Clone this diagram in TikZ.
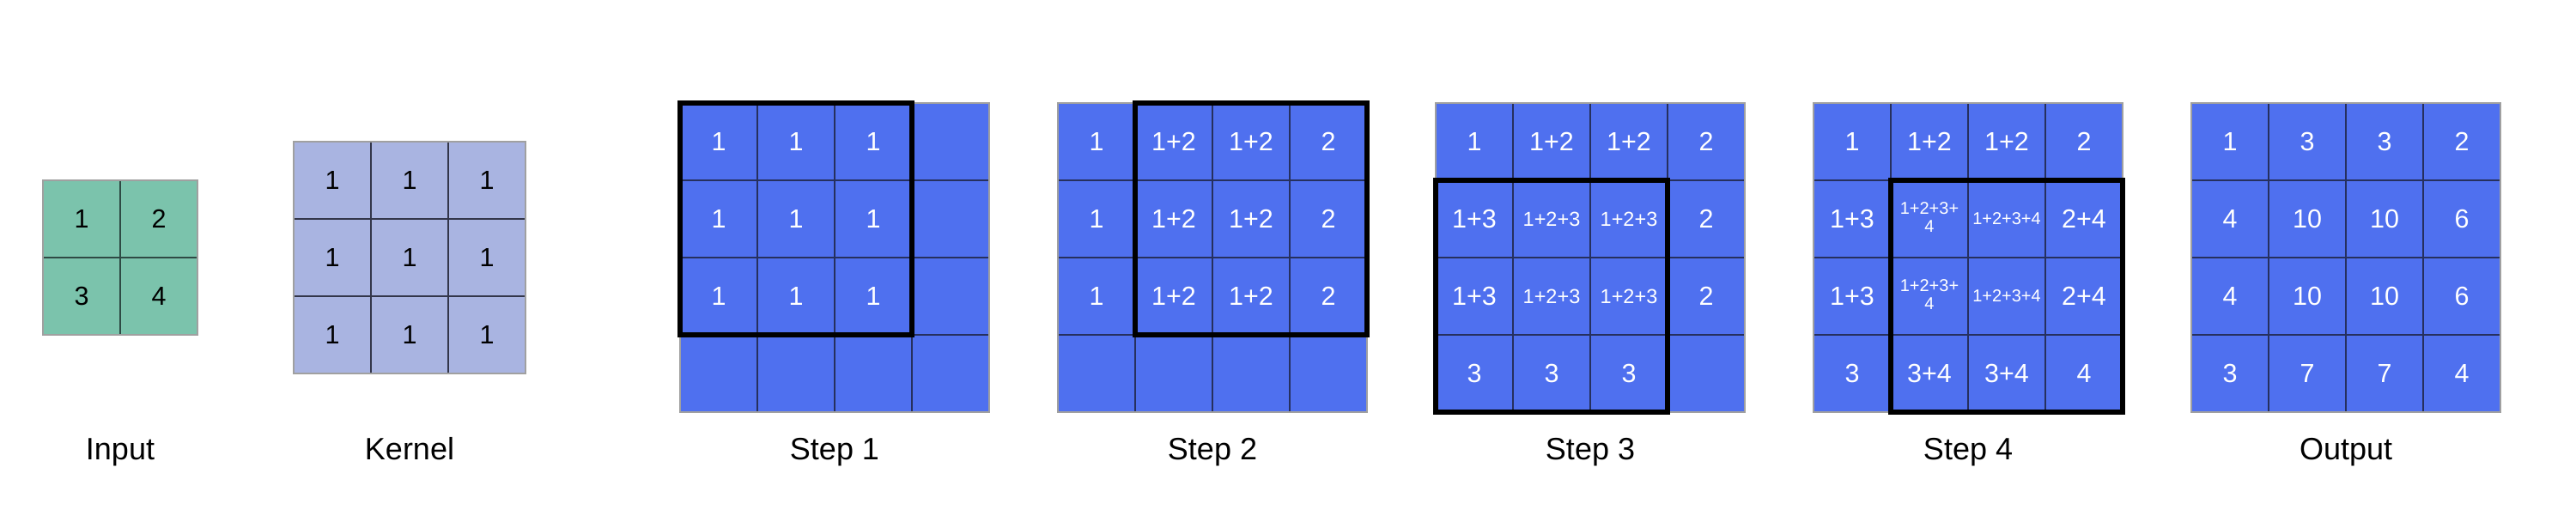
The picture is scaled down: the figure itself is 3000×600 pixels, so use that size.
\documentclass[tikz,border=0pt]{standalone}
\usepackage{fontspec}
\setmainfont{Liberation Sans}
\definecolor{gfill}{HTML}{7BC3AC}
\definecolor{kfill}{HTML}{A9B4E1}
\definecolor{bfill}{HTML}{4F70EF}
\definecolor{gline}{HTML}{2E4A44}
\definecolor{kline}{HTML}{33364A}
\definecolor{bline}{HTML}{26305E}
\definecolor{edgegray}{HTML}{A0A0A0}
\tikzset{
  cellbase/.style={minimum width=90pt, minimum height=90pt, inner sep=0pt, outer sep=0pt,
    anchor=north west, line width=1.5pt, font=\fontsize{30.5}{36}\selectfont},
  gcell/.style={cellbase, fill=gfill, draw=gline, text=black},
  kcell/.style={cellbase, fill=kfill, draw=kline, text=black},
  bcell/.style={cellbase, fill=bfill, draw=bline, text=white},
  smallA/.style={font=\fontsize{23.5}{26}\selectfont},
  smallB/.style={font=\fontsize{20}{23}\selectfont, align=center},
  winbox/.style={draw=black, line width=6pt},
  outerframe/.style={draw=edgegray, line width=1.5pt},
  caption/.style={anchor=base, font=\fontsize{36}{40}\selectfont, text=black}
}
% one row of a blue 4x4 grid: prefix, row, x0, y0, four cell texts
\newcommand\mkbrow[8]{%
  \node[bcell] (#1-#2-0) at (#3,{#4+90*#2}) {#5};
  \node[bcell] (#1-#2-1) at ({#3+90},{#4+90*#2}) {#6};
  \node[bcell] (#1-#2-2) at ({#3+180},{#4+90*#2}) {#7};
  \node[bcell] (#1-#2-3) at ({#3+270},{#4+90*#2}) {#8};
}
\begin{document}
\begin{tikzpicture}[x=1pt,y=-1pt]
\useasboundingbox[fill=white] (0,0) rectangle (3000,600);

% Input 2x2
\node[gcell] (in-0-0) at (50,210) {1};
\node[gcell] (in-0-1) at (140,210) {2};
\node[gcell] (in-1-0) at (50,300) {3};
\node[gcell] (in-1-1) at (140,300) {4};
\draw[outerframe] (in-0-0.north west) rectangle (in-1-1.south east);
\node[caption] (labin) at (140,535) {Input};

% Kernel 3x3
\foreach \r in {0,1,2}{
  \foreach \c in {0,1,2}{
    \node[kcell] (k-\r-\c) at ({342+90*\c},{165+90*\r}) {1};
  }
}
\draw[outerframe] (k-0-0.north west) rectangle (k-2-2.south east);
\node[caption] (labk) at (477,535) {Kernel};

% Step 1
\mkbrow{sa}{0}{792}{120}{1}{1}{1}{}
\mkbrow{sa}{1}{792}{120}{1}{1}{1}{}
\mkbrow{sa}{2}{792}{120}{1}{1}{1}{}
\mkbrow{sa}{3}{792}{120}{}{}{}{}
\draw[outerframe] (sa-0-0.north west) rectangle (sa-3-3.south east);
\draw[winbox] (sa-0-0.north west) rectangle (sa-2-2.south east);
\node[caption] (lab1) at (972,535) {Step 1};

% Step 2
\mkbrow{sb}{0}{1232}{120}{1}{1+2}{1+2}{2}
\mkbrow{sb}{1}{1232}{120}{1}{1+2}{1+2}{2}
\mkbrow{sb}{2}{1232}{120}{1}{1+2}{1+2}{2}
\mkbrow{sb}{3}{1232}{120}{}{}{}{}
\draw[outerframe] (sb-0-0.north west) rectangle (sb-3-3.south east);
\draw[winbox] (sb-0-1.north west) rectangle (sb-2-3.south east);
\node[caption] (lab2) at (1412,535) {Step 2};

% Step 3
\mkbrow{sc}{0}{1672}{120}{1}{1+2}{1+2}{2}
\mkbrow{sc}{1}{1672}{120}{1+3}{\tikzset{smallA}\fontsize{23.5}{26}\selectfont 1+2+3}{\fontsize{23.5}{26}\selectfont 1+2+3}{2}
\mkbrow{sc}{2}{1672}{120}{1+3}{\fontsize{23.5}{26}\selectfont 1+2+3}{\fontsize{23.5}{26}\selectfont 1+2+3}{2}
\mkbrow{sc}{3}{1672}{120}{3}{3}{3}{}
\draw[outerframe] (sc-0-0.north west) rectangle (sc-3-3.south east);
\draw[winbox] (sc-1-0.north west) rectangle (sc-3-2.south east);
\node[caption] (lab3) at (1852,535) {Step 3};

% Step 4
\mkbrow{sd}{0}{2112}{120}{1}{1+2}{1+2}{2}
\mkbrow{sd}{1}{2112}{120}{1+3}{\fontsize{20}{23}\selectfont\begin{tabular}{@{}c@{}}1+2+3+\\[-2pt]4\end{tabular}}{\fontsize{20}{23}\selectfont 1+2+3+4}{2+4}
\mkbrow{sd}{2}{2112}{120}{1+3}{\fontsize{20}{23}\selectfont\begin{tabular}{@{}c@{}}1+2+3+\\[-2pt]4\end{tabular}}{\fontsize{20}{23}\selectfont 1+2+3+4}{2+4}
\mkbrow{sd}{3}{2112}{120}{3}{3+4}{3+4}{4}
\draw[outerframe] (sd-0-0.north west) rectangle (sd-3-3.south east);
\draw[winbox] (sd-1-1.north west) rectangle (sd-3-3.south east);
\node[caption] (lab4) at (2292,535) {Step 4};

% Output
\mkbrow{so}{0}{2552}{120}{1}{3}{3}{2}
\mkbrow{so}{1}{2552}{120}{4}{10}{10}{6}
\mkbrow{so}{2}{2552}{120}{4}{10}{10}{6}
\mkbrow{so}{3}{2552}{120}{3}{7}{7}{4}
\draw[outerframe] (so-0-0.north west) rectangle (so-3-3.south east);
\node[caption] (labo) at (2732,535) {Output};
\end{tikzpicture}
\end{document}
